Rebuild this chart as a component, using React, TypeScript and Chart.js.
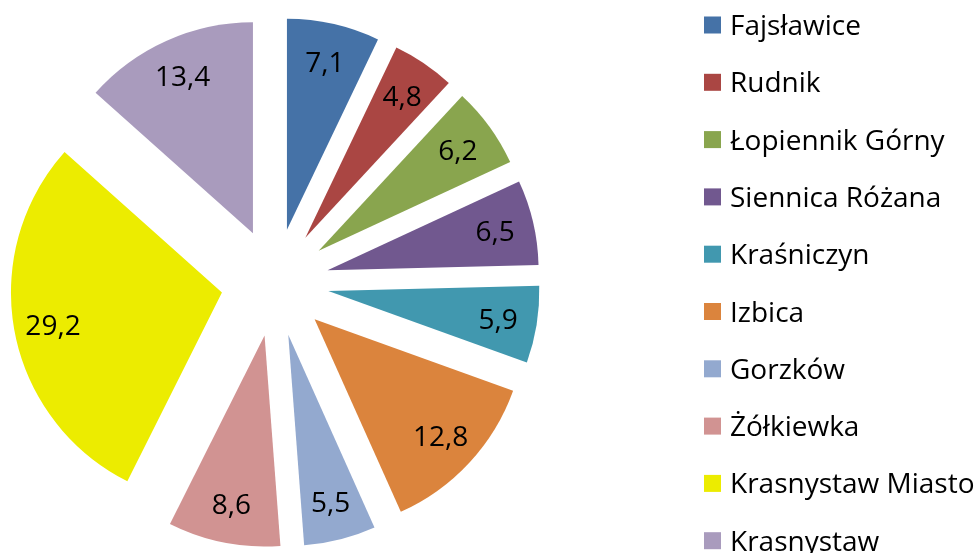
import React, { useEffect, useRef } from 'react';
import { Chart, registerables } from 'chart.js';

Chart.register(...registerables);

// ---- data ----
const categories = [
  'Fajsławice',
  'Rudnik',
  'Łopiennik Górny',
  'Siennica Różana',
  'Kraśniczyn',
  'Izbica',
  'Gorzków',
  'Żółkiewka',
  'Krasnystaw Miasto',
  'Krasnystaw',
];
const values = [7.1, 4.8, 6.2, 6.5, 5.9, 12.8, 5.5, 8.6, 29.2, 13.4];
const colors = [
  '#4572A7',
  '#AA4643',
  '#89A54E',
  '#71588F',
  '#4198AF',
  '#DB843D',
  '#93A9CF',
  '#D19392',
  '#ECEC00',
  '#A99BBD',
];

// ---- style / layout ----
const W = 974;
const H = 553;
const FONT = '"Open Sans", "Liberation Sans", sans-serif';
const FONT_SIZE = 28;
const EXPLODE = 54; // px each slice is pulled out
const LABEL_R = 172; // distance of value label from slice apex
const LEGEND = { boxX: 704, box: 17, textX: 730, firstY: 25, step: 57.3 };

const fmt = (v: number) => v.toFixed(1).replace('.', ',');

const explodedPie = {
  id: 'explodedPie',
  beforeDatasetsDraw(chart: any) {
    const ctx = chart.ctx as CanvasRenderingContext2D;
    const meta = chart.getDatasetMeta(0);
    const data = chart.data.datasets[0].data as number[];
    const centers: { cx: number; cy: number; mid: number }[] = [];
    meta.data.forEach((arc: any) => {
      const { x, y, startAngle, endAngle, outerRadius } = arc;
      const mid = (startAngle + endAngle) / 2;
      const cx = x + Math.cos(mid) * EXPLODE;
      const cy = y + Math.sin(mid) * EXPLODE;
      centers.push({ cx, cy, mid });
      ctx.save();
      ctx.beginPath();
      ctx.moveTo(cx, cy);
      ctx.arc(cx, cy, outerRadius, startAngle, endAngle);
      ctx.closePath();
      ctx.fillStyle = arc.options.backgroundColor;
      ctx.fill();
      ctx.restore();
    });
    ctx.save();
    ctx.font = `${FONT_SIZE}px ${FONT}`;
    ctx.fillStyle = '#000';
    ctx.textAlign = 'center';
    ctx.textBaseline = 'alphabetic';
    centers.forEach(({ cx, cy, mid }, i) => {
      const lx = cx + Math.cos(mid) * LABEL_R;
      const ly = cy + Math.sin(mid) * LABEL_R;
      ctx.fillText(fmt(data[i]), lx, ly + FONT_SIZE * 0.36);
    });
    ctx.restore();
    return false;
  },
  afterDraw(chart: any) {
    const ctx = chart.ctx as CanvasRenderingContext2D;
    const labels = chart.data.labels as string[];
    const bg = chart.data.datasets[0].backgroundColor as string[];
    ctx.save();
    ctx.font = `${FONT_SIZE}px ${FONT}`;
    ctx.textAlign = 'left';
    ctx.textBaseline = 'alphabetic';
    labels.forEach((lab, i) => {
      const cy = LEGEND.firstY + i * LEGEND.step;
      ctx.fillStyle = bg[i];
      ctx.fillRect(LEGEND.boxX, cy - LEGEND.box / 2, LEGEND.box, LEGEND.box);
      ctx.fillStyle = '#000';
      ctx.fillText(lab, LEGEND.textX, cy + FONT_SIZE * 0.36);
    });
    ctx.restore();
  },
};

export default function App() {
  const ref = useRef<HTMLCanvasElement | null>(null);
  useEffect(() => {
    if (!ref.current) return;
    const chart = new Chart(ref.current, {
      type: 'pie',
      data: {
        labels: categories,
        datasets: [
          {
            data: values,
            backgroundColor: colors,
            borderWidth: 0,
          },
        ],
      },
      options: {
        responsive: false,
        devicePixelRatio: 1,
        animation: false,
        layout: { padding: { left: 64, right: 488, top: 71.5, bottom: 59.5 } },
        plugins: {
          legend: { display: false },
          tooltip: { enabled: false },
        },
      },
      plugins: [explodedPie],
    });
    return () => chart.destroy();
  }, []);
  return (
    <div style={{ position: 'absolute', left: 0, top: 0, width: W, height: H, background: '#fff' }}>
      <canvas ref={ref} width={W} height={H} style={{ display: 'block', width: W, height: H }} />
    </div>
  );
}
